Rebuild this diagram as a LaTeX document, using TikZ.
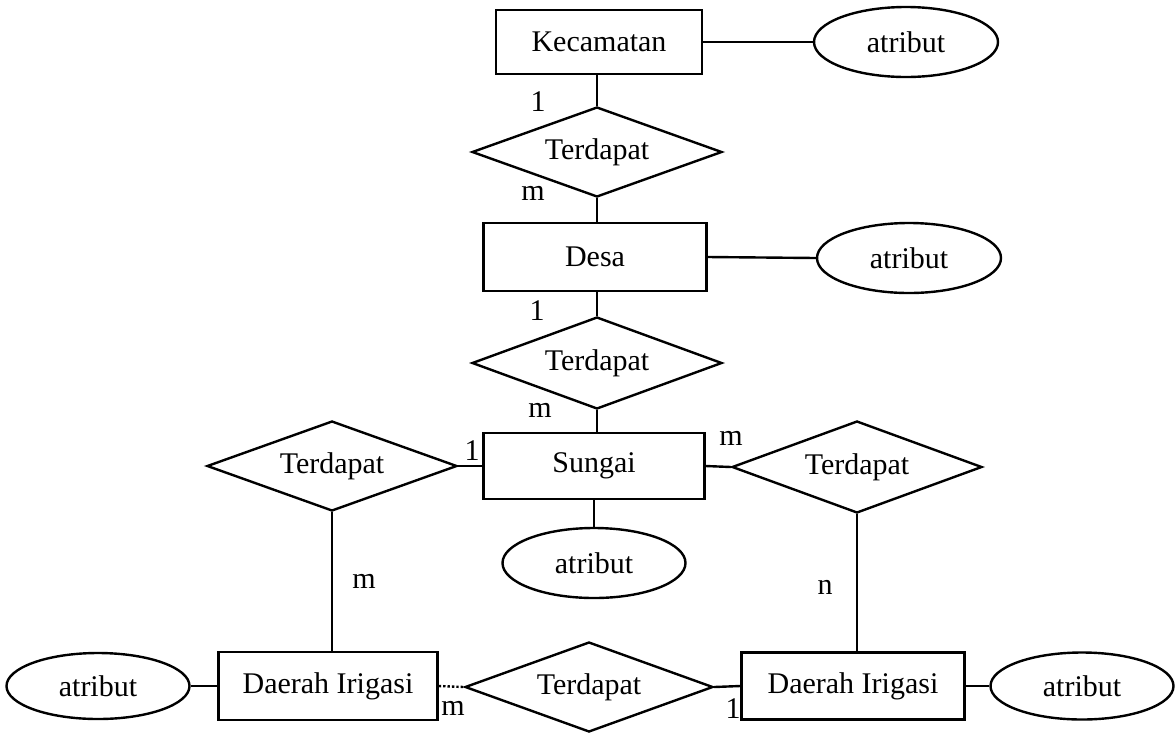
\documentclass[tikz,border=0pt]{standalone}
\usepackage{fontspec}
\setmainfont{Liberation Serif}
\usetikzlibrary{shapes.geometric}
\begin{document}
\begin{tikzpicture}[x=1pt,y=-1pt,
  every node/.style={font=\fontsize{30}{32}\selectfont, inner sep=0pt},
  entity/.style={draw, line width=2.4pt, rectangle, minimum width=#1, minimum height=66pt},
  rel/.style={draw, line width=2.4pt, diamond, aspect=2.78, minimum width=250pt, minimum height=90pt},
  attr/.style={draw, line width=2.4pt, ellipse, minimum width=184pt, minimum height=68pt},
  conn/.style={line width=2.4pt},
  dotconn/.style={line width=2.4pt, dotted},
  card/.style={font=\fontsize{30}{32}\selectfont}]
\useasboundingbox (0,0) rectangle (1175,732);
% entities
\node[entity=206pt, minimum height=64pt] (kec) at (599,42) {Kecamatan};
\node[entity=223pt, minimum height=68pt] (desa) at (595,257) {Desa};
\node[entity=221pt] (sungai) at (594,466) {Sungai};
\node[entity=219pt, minimum height=68pt] (di1) at (328,686) {Daerah Irigasi};
\node[entity=223pt, minimum height=67pt] (di2) at (853,686) {Daerah Irigasi};
% relationships
\node[rel] (r1) at (597,152) {Terdapat};
\node[rel, minimum height=92pt] (r2) at (597,363) {Terdapat};
\node[rel] (r3) at (332,466) {Terdapat};
\node[rel, minimum height=92pt] (r4) at (857,467) {Terdapat};
\node[rel, minimum width=248pt] (r5) at (589,687) {Terdapat};
% attributes
\node[attr, minimum height=70pt] (a1) at (906,42) {atribut};
\node[attr, minimum height=70pt] (a2) at (909,258) {atribut};
\node[attr, minimum width=183pt, minimum height=70pt] (a3) at (594,563) {atribut};
\node[attr, minimum width=183pt, minimum height=66pt] (a4) at (98,686) {atribut};
\node[attr, minimum width=183pt, minimum height=67pt] (a5) at (1082,686) {atribut};
% connectors
\draw[conn] (r1.north) -- (r1.north |- kec.south);
\draw[conn] (kec.east) -- (a1.west);
\draw[conn] (r1.south) -- (r1.south |- desa.north);
\draw[conn] (desa.east) -- (a2.west);
\draw[conn] (r2.north) -- (r2.north |- desa.south);
\draw[conn] (r2.south) -- (r2.south |- sungai.north);
\draw[conn] (sungai.west) -- (r3.east);
\draw[conn] (sungai.east) -- (r4.west);
\draw[conn] (sungai.south) -- (a3.north);
\draw[conn] (r3.south) -- (r3.south |- di1.north);
\draw[conn] (r4.south) -- (r4.south |- di2.north);
\draw[conn] (di1.west) -- (a4.east);
\draw[dotconn] (di1.east) -- (r5.west);
\draw[conn] (r5.east) -- (di2.west);
\draw[conn] (di2.east) -- (a5.west);
% cardinalities
\node[card] (c1) at (538,102) {1};
\node[card] (c2) at (533,193) {m};
\node[card] (c3) at (537,311) {1};
\node[card] (c4) at (540,410) {m};
\node[card] (c5) at (472,451) {1};
\node[card] (c6) at (731,438) {m};
\node[card] (c7) at (364,581) {m};
\node[card] (c8) at (825,587) {n};
\node[card] (c9) at (453,708) {m};
\node[card] (c10) at (733,709) {1};
\end{tikzpicture}
\end{document}
